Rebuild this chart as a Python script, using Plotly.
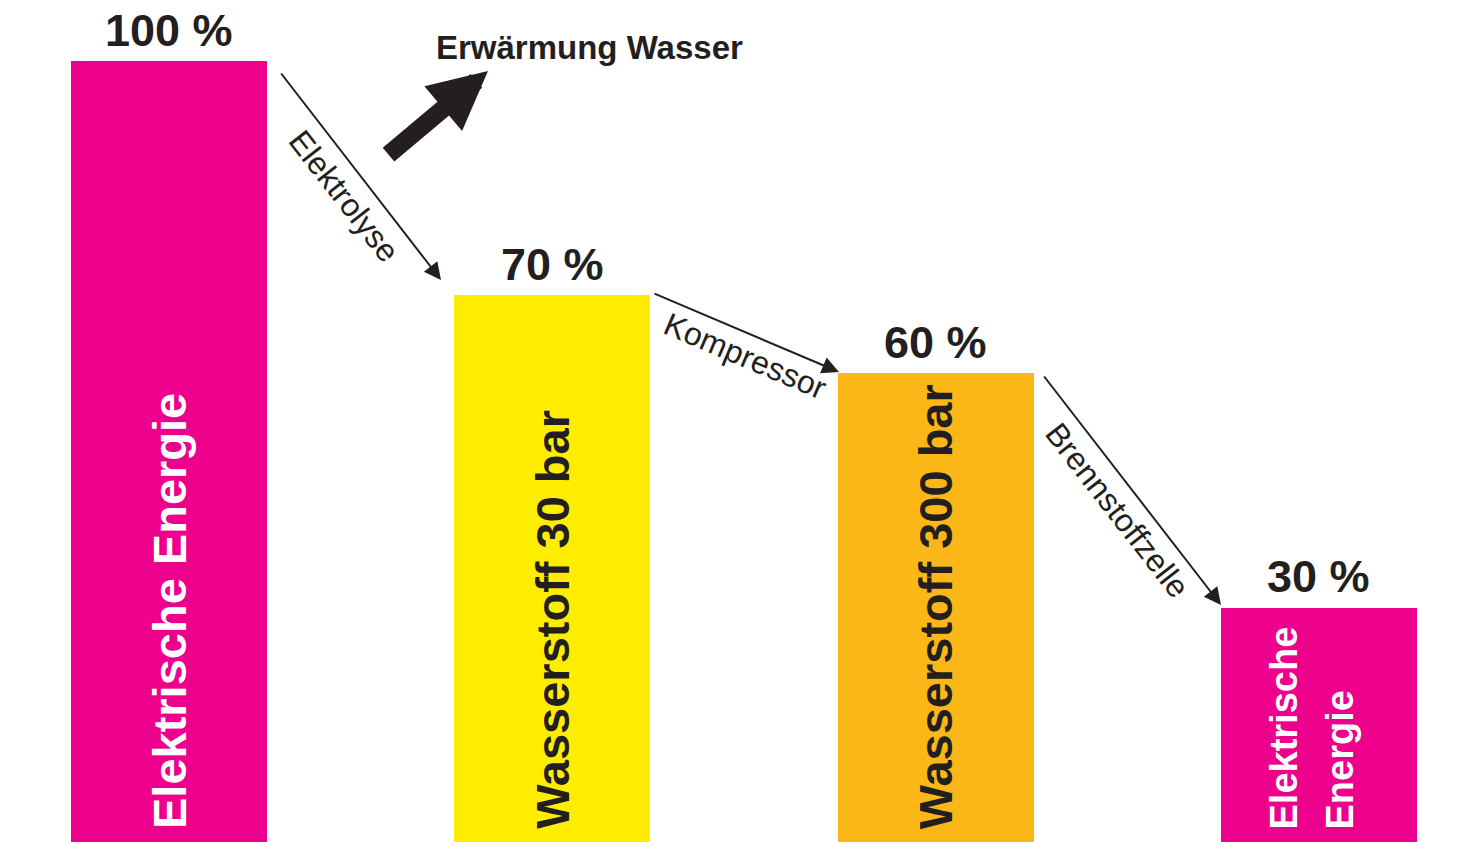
import plotly.graph_objects as go

# Energy chain of hydrogen storage: share of the original electrical energy left after each step
stages = ["Elektrische Energie", "Wasserstoff 30 bar", "Wasserstoff 300 bar", "Elektrische<br>Energie"]
efficiency = [100, 70, 60, 30]
value_labels = ["100 %", "70 %", "60 %", "30 %"]
steps = ["Elektrolyse", "Kompressor", "Brennstoffzelle"]
loss_label = "Erwärmung Wasser"

bar_colors = ["#EC008C", "#FFED00", "#FBB717", "#EC008C"]
name_colors = ["#FFFFFF", "#231F20", "#231F20", "#FFFFFF"]
name_sizes = [47, 47, 47, 38]
dark = "#231F20"
font_family = "Liberation Sans, Arial, sans-serif"

W, H = 1464, 842
x_pos = list(range(len(stages)))

fig = go.Figure()
fig.add_trace(go.Bar(
    x=x_pos, y=efficiency, width=0.511,
    marker=dict(color=bar_colors, line=dict(width=0)),
    hoverinfo="skip", showlegend=False,
))

annotations = []

# percentage above each bar
for xi, v, lab in zip(x_pos, efficiency, value_labels):
    annotations.append(dict(
        x=xi, y=v, xref="x", yref="y", text=f"<b>{lab}</b>", showarrow=False,
        yanchor="middle", xanchor="center", yshift=31,
        font=dict(family=font_family, size=45, color=dark),
    ))

# vertical stage name inside each bar; multi-line names get one column per line
line_gap = 56
for xi, name, col, size in zip(x_pos, stages, name_colors, name_sizes):
    lines = name.split("<br>")
    n = len(lines)
    for k, line in enumerate(lines):
        dx = (k - (n - 1) / 2) * line_gap - (7 if n > 1 else 0)
        annotations.append(dict(
            x=xi, y=0, xref="x", yref="y", text=f"<b>{line}</b>", showarrow=False,
            textangle=-90, xanchor="center", yanchor="bottom", yshift=11, xshift=dx,
            font=dict(family=font_family, size=size, color=col),
        ))


def px(xp, yp):
    """Figure pixel position -> paper coordinates."""
    return xp / W, 1 - yp / H


# thin transition arrows between bars: (tail, head) in figure pixels
arrow_ends = [((280, 72), (441, 280)), ((653, 293), (839, 372)), ((1043, 375), (1221, 605))]
for (tail, head) in arrow_ends:
    hx, hy = px(*head)
    annotations.append(dict(
        x=hx, y=hy, xref="paper", yref="paper", text="", showarrow=True,
        ax=tail[0] - head[0], ay=tail[1] - head[1], axref="pixel", ayref="pixel",
        arrowhead=2, arrowsize=1.7, arrowwidth=2, arrowcolor=dark, standoff=0,
    ))

# step names running along the arrows
step_centers = [(344, 196), (745, 356), (1117, 510)]
step_angles = [52, 23, 52]
for name, (cx, cy), ang in zip(steps, step_centers, step_angles):
    x0, y0 = px(cx, cy)
    annotations.append(dict(
        x=x0, y=y0, xref="paper", yref="paper", text=name, showarrow=False,
        textangle=ang, xanchor="center", yanchor="middle",
        font=dict(family=font_family, size=32, color=dark),
    ))

# heat loss arrow
hx, hy = px(488, 71)
annotations.append(dict(
    x=hx, y=hy, xref="paper", yref="paper", text="", showarrow=True,
    ax=387 - 488, ay=156 - 71, axref="pixel", ayref="pixel",
    arrowhead=2, arrowsize=0.65, arrowwidth=18, arrowcolor=dark, standoff=0,
))
lx, ly = px(589, 48)
annotations.append(dict(
    x=lx, y=ly, xref="paper", yref="paper", text=f"<b>{loss_label}</b>", showarrow=False,
    xanchor="center", yanchor="middle",
    font=dict(family=font_family, size=33, color=dark),
))

fig.update_layout(
    width=W, height=H,
    margin=dict(l=0, r=0, t=0, b=0),
    paper_bgcolor="white", plot_bgcolor="white",
    xaxis=dict(range=[-0.4409, 3.3783], visible=False, fixedrange=True),
    yaxis=dict(range=[0, 107.81], visible=False, fixedrange=True),
    annotations=annotations,
    bargap=0,
)

fig.write_html("out.html", config={"displayModeBar": False})
